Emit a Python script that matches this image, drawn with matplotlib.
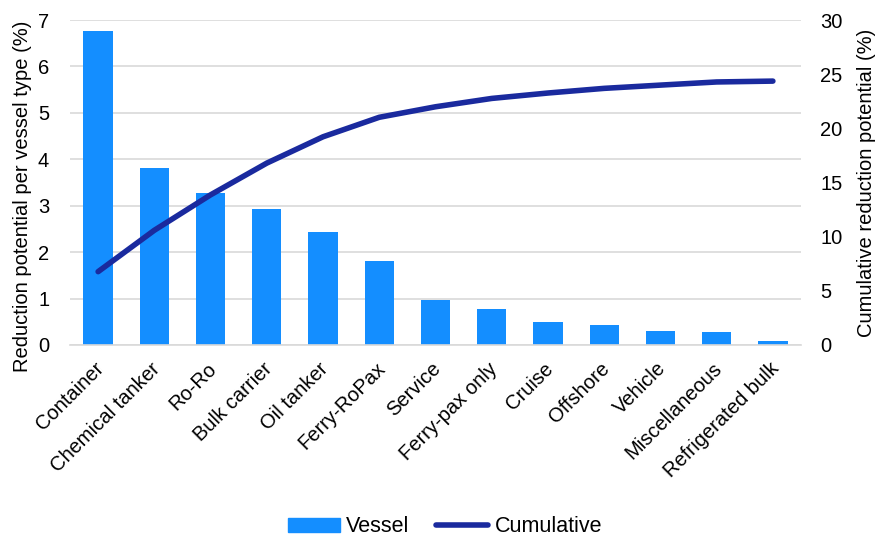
import matplotlib as mpl
mpl.use('Agg')
import matplotlib.pyplot as plt
import matplotlib.transforms as mtransforms
from matplotlib.lines import Line2D
from matplotlib.patches import Patch

# vessel types, sorted by reduction potential
vessel_types = ['Container', 'Chemical tanker', 'Ro-Ro', 'Bulk carrier',
                'Oil tanker', 'Ferry-RoPax', 'Service', 'Ferry-pax only',
                'Cruise', 'Offshore', 'Vehicle', 'Miscellaneous',
                'Refrigerated bulk']
reduction = [6.77, 3.82, 3.27, 2.93, 2.43, 1.80, 0.97, 0.77, 0.50, 0.43,
             0.30, 0.29, 0.08]
cumulative = [6.77, 10.59, 13.86, 16.79, 19.22, 21.02, 21.99, 22.76, 23.26,
              23.69, 23.99, 24.28, 24.36]

bar_color = '#148EFF'
line_color = '#1A2A9E'
font_size = 14.5

plt.rcParams['font.family'] = ['Liberation Sans', 'DejaVu Sans']

fig = plt.figure(figsize=(8.75, 5.38), dpi=100)
ax = fig.add_axes([70 / 875, 1 - 345 / 538, 731 / 875, 325 / 538])
x = list(range(len(vessel_types)))
ax.bar(x, reduction, width=0.52, color=bar_color, zorder=2)
ax.set_xlim(-0.5, len(vessel_types) - 0.5)
ax.set_ylim(0, 7)
ax.set_yticks(range(0, 8))
ax.yaxis.grid(True, color='#D9D9D9', linewidth=1.2, zorder=0)
ax.set_axisbelow(True)
for side in ['top', 'right', 'left']:
    ax.spines[side].set_visible(False)
ax.spines['bottom'].set_color('#D9D9D9')
ax.spines['bottom'].set_linewidth(1.2)
ax.tick_params(axis='both', length=0, labelsize=font_size, colors='#000000')
ax.tick_params(axis='y', pad=15)
ax.set_xticks(x)
ax.set_xticklabels(vessel_types, rotation=45, ha='right',
                   rotation_mode='anchor')
ax.tick_params(axis='x', pad=10)
# nudge the rotated labels a little to the left
shift = mtransforms.ScaledTranslation(-4 / 100, 0, fig.dpi_scale_trans)
for lbl in ax.get_xticklabels():
    lbl.set_transform(lbl.get_transform() + shift)
ax.set_ylabel('Reduction potential per vessel type (%)', fontsize=font_size)
ax.yaxis.set_label_coords(-0.052, 0.458)

ax2 = ax.twinx()
ax2.plot(x, cumulative, color=line_color, linewidth=4,
         solid_capstyle='round', zorder=3)
ax2.set_ylim(0, 30)
ax2.set_yticks(range(0, 31, 5))
for side in ['top', 'right', 'left', 'bottom']:
    ax2.spines[side].set_visible(False)
ax2.tick_params(axis='y', length=0, labelsize=font_size, pad=14)
ax2.set_ylabel('Cumulative reduction potential (%)', fontsize=font_size,
               labelpad=10)

handles = [Patch(color=bar_color, label='Vessel'),
           Line2D([0], [0], color=line_color, linewidth=4,
                  solid_capstyle='round', label='Cumulative')]
fig.legend(handles=handles, loc='center',
           bbox_to_anchor=(445 / 875, 1 - 527 / 538),
           ncol=2, frameon=False, fontsize=15.5, handlelength=2.4,
           handleheight=0.6, columnspacing=1.25, handletextpad=0.3)

fig.savefig('out.png', dpi=100)
